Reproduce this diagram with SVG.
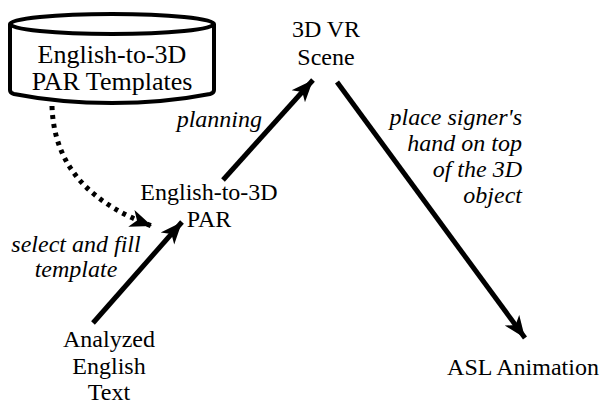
<svg xmlns="http://www.w3.org/2000/svg" width="603" height="405" viewBox="0 0 603 405">
<style>
text{font-family:"Liberation Serif",LiberationSerif,Tinos,"Noto Serif","DejaVu Serif",FreeSerif,Times,serif;font-size:24px;fill:#000;text-anchor:middle}
.big{font-size:26px}
.i{font-style:italic}
.e{text-anchor:end}
.ln{stroke:#000;stroke-width:5;fill:none}
</style>
<defs>
<marker id="ah" markerUnits="userSpaceOnUse" markerWidth="24" markerHeight="20" viewBox="0 0 24 20" refX="22" refY="10" orient="auto">
<path d="M0,1 L22,10 L0,19 L6,10 Z" fill="#000"/>
</marker>
</defs>
<g id="templates">
<path d="M10,24 L10,90 Q10,93 14,94 Q60,103 112,103 Q164,103 210,94 Q214,93 214,90 L214,24" fill="none" stroke="#000" stroke-width="4"/>
<ellipse cx="112" cy="24" rx="102" ry="10" fill="none" stroke="#000" stroke-width="4"/>
<text class="big" x="112" y="63">English-to-3D</text>
<text class="big" x="112" y="90">PAR Templates</text>
</g>
<g id="scene">
<text x="326" y="37">3D VR</text>
<text x="326" y="65">Scene</text>
</g>
<g id="par">
<text x="209" y="200">English-to-3D</text>
<text x="209" y="227">PAR</text>
</g>
<g id="analyzed">
<text x="109" y="347">Analyzed</text>
<text x="109" y="374">English</text>
<text x="109" y="400">Text</text>
</g>
<g id="asl">
<text x="523" y="375">ASL Animation</text>
</g>
<g id="connectors">
<path class="ln" d="M93,323 L182,222" marker-end="url(#ah)"/>
<path class="ln" d="M223,180 L313,80" marker-end="url(#ah)"/>
<path class="ln" d="M337,82 L525,338" marker-end="url(#ah)"/>
<path d="M52,106 C54,170 95,205 152,226" fill="none" stroke="#000" stroke-width="5" stroke-dasharray="4,5" marker-end="url(#ah)"/>
<text class="i e" x="262" y="127">planning</text>
<text class="i" x="76" y="252">select and fill</text>
<text class="i" x="76" y="277">template</text>
<text class="i e" x="522" y="125">place signer's</text>
<text class="i e" x="522" y="151">hand on top</text>
<text class="i e" x="522" y="177">of the 3D</text>
<text class="i e" x="522" y="203">object</text>
</g>
</svg>
